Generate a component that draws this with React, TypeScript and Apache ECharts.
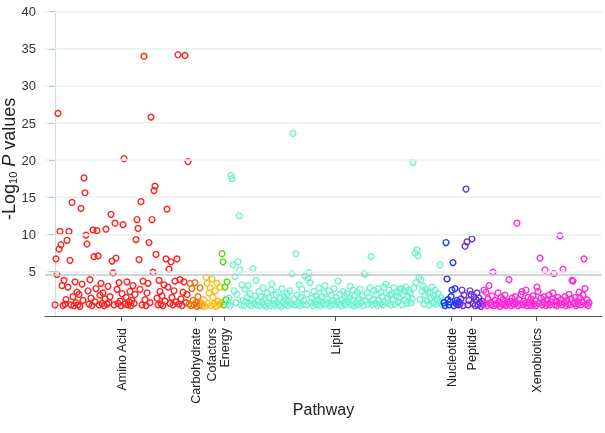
import React, { useEffect, useRef } from "react";
import * as echarts from "echarts";

const pathways = ["Amino Acid", "Carbohydrate", "Cofactors", "Energy", "Lipid", "Nucleotide", "Peptide", "Xenobiotics"];
const colors = ["#ff2020", "#e5730f", "#ffbd1a", "#4fdc0a", "#6ff2cf", "#1f35f0", "#6a2ee0", "#ff2ad8"];

const aminoAcid = [
  0.5, 6.7, 4.6, 26.3, 8.0, 10.4, 8.6, 3.1, 0.4, 3.8,
  0.6, 1.2, 9.2, 2.9, 10.4, 6.5, 0.5, 14.3, 1.6, 0.4,
  3.6, 0.8, 2.2, 0.5, 1.9, 0.3, 13.5, 3.3, 1.1, 17.6,
  15.6, 9.9, 8.7, 2.4, 0.6, 3.9, 1.4, 0.4, 10.6, 7.0,
  0.9, 2.7, 10.5, 7.1, 0.5, 1.8, 3.4, 0.7, 2.1, 0.4,
  1.3, 10.7, 0.6, 3.0, 0.8, 1.6, 12.7, 6.4, 4.8, 0.5,
  11.5, 6.8, 2.6, 0.7, 3.5, 1.0, 0.4, 2.0, 11.3, 20.2,
  0.6, 1.5, 3.6, 0.5, 0.9, 2.3, 0.4, 1.1, 3.1, 0.7,
  1.9, 9.3, 12.0, 10.8, 6.6, 2.6, 14.4, 0.5, 3.7, 34.0,
  1.2, 0.4, 2.1, 3.4, 8.9, 0.8, 25.8, 12.0, 4.9, 15.9,
  16.5, 7.3, 1.4, 0.5, 3.8, 2.3, 0.6, 1.7, 0.4, 3.2,
  1.0, 6.7, 13.4, 2.9, 5.3, 0.7, 6.3, 1.5, 0.5, 2.4,
  3.7, 0.9, 6.7, 34.2, 0.6, 3.9, 1.3, 0.4, 2.2, 3.6,
  34.1, 0.8, 1.9, 19.8,
];
const carbohydrate = [0.6, 3.4, 0.4, 2.7, 1.1, 0.5, 3.5, 0.8, 0.3, 1.6, 0.5, 2.8, 0.7, 0.4];
const cofactors = [0.5, 1.2, 0.3, 4.2, 3.4, 0.7, 2.1, 2.8, 0.4, 4.0, 1.5, 0.6, 2.4, 0.3, 3.4, 1.0, 0.5, 2.9, 0.8];
const energy = [7.4, 6.3, 0.5, 2.9, 1.2, 3.6];
const lipid = [
  0.6, 1.4, 0.4, 17.9, 17.5, 5.9, 2.4, 4.3, 0.8, 1.9,
  6.3, 12.5, 5.2, 0.5, 3.2, 1.1, 0.4, 2.6, 0.9, 1.5,
  3.1, 0.6, 2.0, 0.4, 1.2, 5.4, 0.7, 1.7, 3.8, 0.5,
  1.0, 2.3, 0.4, 1.6, 0.8, 2.8, 0.5, 1.3, 0.3, 2.1,
  0.7, 1.5, 0.4, 2.5, 3.3, 0.6, 1.1, 0.4, 1.9, 0.8,
  2.2, 0.5, 1.4, 0.3, 2.7, 0.9, 1.6, 0.5, 1.2, 2.0,
  0.4, 1.0, 2.4, 0.6, 4.7, 23.6, 1.3, 0.5, 7.4, 1.8,
  0.7, 3.2, 0.4, 1.5, 2.6, 0.6, 1.1, 4.4, 0.5, 2.0,
  4.1, 4.8, 3.5, 0.8, 1.4, 0.4, 2.3, 0.7, 1.7, 0.5,
  1.2, 2.8, 0.4, 0.9, 1.6, 0.6, 2.1, 3.1, 0.5, 1.3,
  0.8, 2.4, 0.4, 1.8, 0.6, 1.1, 2.7, 0.5, 1.5, 0.9,
  3.7, 0.6, 1.9, 0.4, 1.2, 2.3, 0.7, 1.6, 0.5, 2.0,
  0.9, 1.4, 3.0, 0.5, 1.1, 2.5, 0.4, 1.8, 0.7, 2.2,
  0.5, 1.3, 2.6, 0.8, 1.7, 0.4, 4.7, 4.6, 1.0, 2.1,
  0.6, 1.5, 2.8, 7.0, 0.5, 1.2, 2.4, 0.7, 1.9, 0.4,
  2.7, 1.1, 0.6, 2.2, 1.6, 0.5, 2.9, 0.9, 3.3, 1.4,
  0.7, 2.5, 1.8, 0.5, 2.0, 1.2, 2.8, 0.6, 1.7, 2.3,
  0.9, 1.5, 2.6, 2.7, 0.5, 1.9, 2.4, 1.1, 2.9, 0.7,
  1.6, 2.5, 2.1, 0.8, 1.3, 19.7, 2.8, 7.5, 3.5, 7.9,
  7.1, 4.2, 1.2, 3.9, 2.4, 3.0, 0.6, 1.8, 2.6, 1.0,
  2.2, 0.5, 2.2, 1.4, 2.9, 0.8, 1.7, 2.5, 0.6, 1.3,
  2.0, 0.9, 5.9, 1.5, 0.5, 1.1,
];
const nucleotide = [0.8, 0.4, 8.9, 4.0, 1.2, 0.5, 0.9, 1.6, 2.5, 6.2, 0.4, 2.7, 0.7, 1.1, 0.5, 0.9];
const peptide = [0.6, 1.3, 2.5, 0.4, 1.8, 8.4, 16.1, 9.0, 0.5, 1.1, 2.4, 1.9, 9.4, 0.7, 1.6, 0.4, 1.2, 2.1, 0.5, 1.4, 0.8, 0.3, 1.0, 0.6];
const xenobiotics = [
  2.5, 0.6, 2.2, 0.4, 1.3, 3.1, 0.8, 0.5, 1.7, 4.9,
  0.4, 1.1, 0.7, 0.5, 2.1, 0.9, 0.3, 1.5, 0.6, 1.2,
  0.5, 1.8, 0.4, 0.9, 0.6, 3.9, 1.0, 0.4, 1.4, 0.7,
  0.5, 1.6, 0.8, 11.5, 0.4, 1.2, 0.6, 1.9, 2.3, 0.5,
  1.0, 0.7, 2.5, 0.4, 1.5, 0.8, 0.5, 1.3, 0.4, 1.7,
  0.6, 1.1, 0.4, 2.9, 2.3, 0.7, 6.8, 1.4, 0.5, 0.9,
  1.6, 5.2, 0.4, 1.2, 0.6, 1.8, 0.5, 0.9, 1.3, 2.1,
  4.7, 0.5, 1.0, 0.4, 1.5, 0.7, 9.8, 1.2, 0.5, 5.3,
  0.8, 1.6, 0.4, 1.1, 0.6, 1.9, 0.5, 1.3, 3.8, 3.7,
  0.7, 1.5, 0.4, 1.0, 0.6, 2.2, 1.4, 0.5, 0.9, 1.8,
  6.7, 2.7, 0.6, 1.2, 0.4, 0.8,
];

const groups = [aminoAcid, carbohydrate, cofactors, energy, lipid, nucleotide, peptide, xenobiotics];
const yTicks = [5, 10, 15, 20, 25, 30, 35, 40];
const threshold = 4.6;

const FONT = "'Liberation Sans', Arial, Helvetica, sans-serif";

export default function App() {
  const ref = useRef<HTMLDivElement>(null);
  useEffect(() => {
    if (!ref.current) return;
    const chart = echarts.init(ref.current, null, { renderer: "svg" });
    let offset = 0;
    const centers: number[] = [];
    const series: any[] = groups.map((vals, g) => {
      const data = vals.map((v, i) => [offset + i, v]);
      centers.push(offset + (vals.length - 1) / 2);
      offset += vals.length;
      return {
        type: "scatter",
        name: pathways[g],
        data,
        symbol: "circle",
        symbolSize: 5.8,
        z: 3,
        itemStyle: { color: "rgba(0,0,0,0)", borderColor: colors[g], borderWidth: 1.4, opacity: 1 },
      };
    });
    series.unshift({
      type: "scatter",
      data: [],
      silent: true,
      z: 1,
      markLine: {
        silent: true,
        symbol: "none",
        animation: false,
        label: { show: false },
        data: [
          ...yTicks.map((v) => ({ yAxis: v, lineStyle: { color: "#e3f4f0", width: 1.5, type: "solid" } })),
          { yAxis: threshold, lineStyle: { color: "#c6c6c6", width: 1.5, type: "solid" } },
        ],
      },
    });
    chart.setOption({
      animation: false,
      grid: { left: 45, right: 3, top: 11.7, bottom: 117, containLabel: false, outerBoundsMode: "none" },
      xAxis: {
        type: "value",
        min: -10,
        max: 547,
        name: "Pathway",
        nameLocation: "middle",
        nameGap: 85,
        nameMoveOverlap: false,
        nameTextStyle: { fontFamily: FONT, fontSize: 16, color: "#222" },
        splitLine: { show: false },
        axisLine: { show: true, onZero: false, lineStyle: { color: "#555", width: 1.2 } },
        axisTick: { show: true, length: 5, customValues: centers, lineStyle: { color: "#555" } },
        axisLabel: {
          customValues: centers,
          rotate: 90,
          margin: 12,
          fontFamily: FONT,
          fontSize: 12.5,
          color: "#222",
          formatter: (v: number) => {
            const k = centers.findIndex((c) => Math.abs(c - v) < 1e-6);
            return k >= 0 ? pathways[k] : "";
          },
        },
      },
      yAxis: {
        type: "value",
        min: -1,
        max: 40,
        name: "-Log{s|10} {i|P} values",
        nameLocation: "middle",
        nameGap: 27,
        nameMoveOverlap: false,
        nameRotate: 90,
        nameTextStyle: {
          fontFamily: FONT,
          fontSize: 18,
          color: "#222",
          padding: [0, 0, 0, 10],
          rich: {
            s: { fontFamily: FONT, fontSize: 11, color: "#222", verticalAlign: "bottom", padding: [6, 0, 0, 0] },
            i: { fontFamily: FONT, fontSize: 18, fontStyle: "italic", color: "#222" },
          },
        },
        splitLine: { show: false },
        axisLine: { show: true, lineStyle: { color: "#d2dede", width: 1 } },
        axisTick: { show: true, length: 6, customValues: yTicks, lineStyle: { color: "#444" } },
        axisLabel: { customValues: yTicks, margin: 9, fontFamily: FONT, fontSize: 13, color: "#333" },
      },
      series,
    });
    return () => chart.dispose();
  }, []);
  return <div ref={ref} style={{ position: "fixed", left: 0, top: 0, width: 605, height: 433 }} />;
}
